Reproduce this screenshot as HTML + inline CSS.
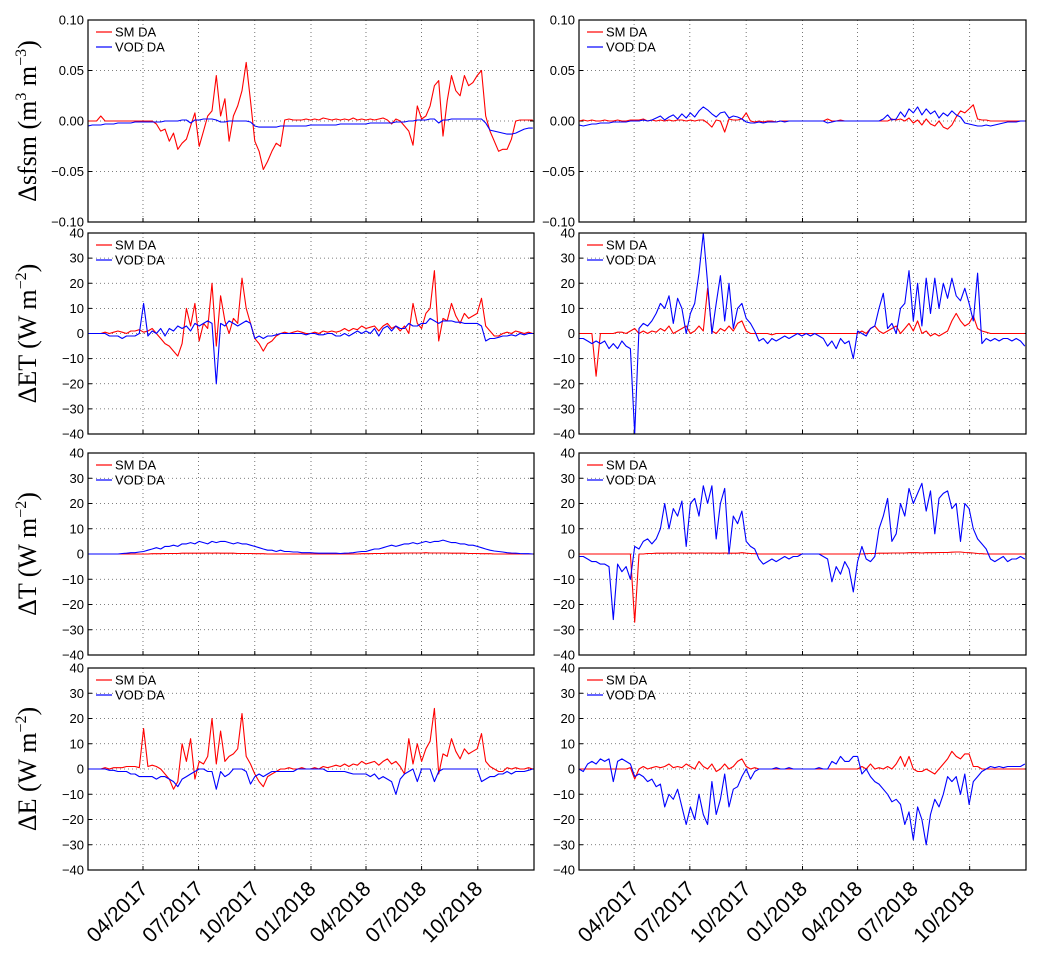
<!DOCTYPE html>
<html><head><meta charset="utf-8"><style>
body{margin:0;background:#fff;}
svg{display:block;font-family:"Liberation Sans",sans-serif;}
</style></head><body>
<svg id="fig" width="1043" height="977" viewBox="0 0 1043 977" xmlns="http://www.w3.org/2000/svg"></svg>
<script>
// weekly samples, day 0 = 01/01/2017, step 7 days
const dayStep = 7;
const xTickLabels = ["04/2017","07/2017","10/2017","01/2018","04/2018","07/2018","10/2018"];
const xTickDays = [90,181,273,365,455,546,638];
const sfsmTicks = [0.10,0.05,0.00,-0.05,-0.10];
const sfsmTickLabels = ["0.10","0.05","0.00","\u22120.05","\u22120.10"];
const fluxTicks = [40,30,20,10,0,-10,-20,-30,-40];
const fluxTickLabels = ["40","30","20","10","0","\u221210","\u221220","\u221230","\u221240"];

const sfsmL_SM = [0,0,0,0.005,0,0,0,0,0,0,0,0,0, 0,0,0,-0.003,-0.01,-0.008,-0.02,-0.012,-0.028,-0.022,-0.018,-0.005,0.008, -0.025,-0.01,0.005,0.01,0.045,0.005,0.022,-0.02,0.005,0.015,0.03,0.058,0.02, -0.02,-0.03,-0.048,-0.04,-0.03,-0.022,-0.025,0.001,0.002,0.001,0.001,0.001,0.002, 0.001,0.002,0.001,0.003,0.002,0.001,0.002,0.001,0.002,0.001,0.003,0.001,0.002, 0.001,0.002,0.001,0.002,0.003,0.001,-0.003,0.002,0,-0.005,-0.01,-0.024,0.015, 0.002,0.005,0.015,0.035,0.04,-0.015,0.02,0.045,0.03,0.025,0.045,0.035,0.038, 0.045,0.05,0.005,-0.01,-0.02,-0.03,-0.028,-0.028,-0.018,0,0.001,0.001,0.001,0.001];
const sfsmL_VOD = [-0.005,-0.004,-0.004,-0.004,-0.003,-0.003,-0.003,-0.002,-0.002,-0.002,-0.002,-0.001,-0.001, -0.001,-0.001,-0.001,-0.001,-0.001,0,0,0,0,0.001,0.001,-0.002,0.001, 0.001,0.002,0.002,0.002,0.001,-0.001,-0.001,0,0,0,0,0,-0.001, -0.005,-0.006,-0.006,-0.006,-0.006,-0.006,-0.005,-0.005,-0.005,-0.005,-0.005,-0.005,-0.005, -0.004,-0.004,-0.004,-0.004,-0.004,-0.004,-0.004,-0.003,-0.003,-0.003,-0.003,-0.003,-0.003, -0.003,-0.002,-0.002,-0.002,-0.002,-0.002,-0.002,-0.001,-0.001,-0.001,0,0,0.001, 0.001,0.001,0.002,0.002,-0.002,0.001,0.001,0.002,0.002,0.002,0.002,0.002,0.002, 0.002,0.002,-0.002,-0.009,-0.01,-0.011,-0.012,-0.013,-0.013,-0.012,-0.01,-0.008,-0.007,-0.007];
const sfsmR_SM = [0,0.001,0,0.001,0,0,0.001,0,0,0.001,0,0,0.001, 0.001,0.001,0.002,0,0.001,0,0.001,0,0.001,0,0.001,0.001,0, 0.001,0,0.001,0.001,-0.002,-0.006,0.001,0,-0.011,0.002,0.001,0.001,0.002, 0.008,0,-0.001,0,-0.001,0,0,-0.001,0,0,0,0,0, 0,0,0,0,0,0,0.002,0,0,0.001,0,0,0, 0,0,0,0,0,0,0,0,0.002,0.001,0.002,0,0.003, -0.002,0.001,-0.004,0.002,-0.003,-0.005,0,-0.006,-0.008,-0.004,0.004,0.01,0.008, 0.012,0.016,0.002,0.001,0.001,0,0,0,0,0,0,0,0,0];
const sfsmR_VOD = [-0.004,-0.005,-0.004,-0.003,-0.003,-0.002,-0.002,-0.002,-0.001,-0.001,-0.001,-0.001,0, 0,0,0.001,0,0.001,0.003,0.005,0.001,0.004,0.006,0.002,0.007,0.003, 0.008,0.004,0.01,0.014,0.011,0.007,0.004,0.008,0.009,0.003,0.005,0.004,0.002, -0.001,-0.002,-0.002,-0.001,-0.002,-0.001,-0.001,-0.001,0,-0.001,0,0,0, 0,0,0,0,0,0,-0.002,-0.001,0,0,0,0,0, 0,0,0,0,0,0,0.002,0.006,0.001,0.002,0.009,0.004,0.012, 0.008,0.014,0.006,0.012,0.007,0.01,0.003,0.008,0.005,0.01,0.006,0.004,-0.002, -0.003,-0.004,-0.005,-0.005,-0.004,-0.005,-0.004,-0.003,-0.002,-0.001,-0.001,-0.001,0,0];

const etL_SM = [0,0,0,0,0.5,0,0.5,1,0.5,0,1,1,1.5, 0.5,1,2,0,-2,-4,-5,-7,-9,-4,10,3,12, -3,4,2,20,-5,15,5,0,6,4,22,10,4, -2,-4,-7,-4,-3,-1,0,0.5,0,0.5,1,0.5,0, 0,0.5,0,1,0.5,1,0.5,1,2,1,2,1.5,3, 2,2.5,3,1,3,4,2,3,1,3,0,12,4, 2,8,10,25,-3,6,5,12,7,4,8,6,7, 8,14,3,1,-1,-1,0,0.5,0,1,0.5,0,0.5,0];
const etL_VOD = [0,0,0,0,0,-1,-1,-1,-2,-1,-1,-1,0, 12,-1,1,0,2,-1,2,1,3,2,3,1,4, 3,4,5,4,-20,4,3,5,4,3,4,5,4, -2,-1,-2,-1,-1,-0.5,0,0,0,0,0,0,-0.5, 0,0,-0.5,-0.5,0,0,-1,-1,0,-1,0,1,0, 1,0,2,-1,2,3,1,3,2,2,4,3,3, 4,4,6,5,4,5,5,5,4.5,4.5,4,4,4, 4,3,-3,-2,-2,-1.5,-1,-1,-0.5,-1,0,-0.5,0,0];
const etR_SM = [0,0,0,0,-17,0,0,0,0,0.5,0.5,0,1, 2,0,1,0,1,0.5,2,1,3,0,1,2,3, 0,1,3,1,18,1,0,2,1,3,1,4,5, 1,0,0,0,0,0,-0.5,0,0,0,0,0,0, 0,0,0,0,0,0,0,0,0,0,0,0,0, 0,1,0,2,3,1,0,1,2,3,0,2,4, 1,5,0,1,-1,0,-1,0,1,5,8,5,3, 4,7,2,1,0.5,0,0,0,0,0,0,0,0,0];
const etR_VOD = [-2,-2,-3,-4,-3,-4,-3,-6,-4,-6,-3,-5,-6, -40,2,4,3,5,8,12,10,15,4,14,10,0, 8,12,24,40,20,0,12,23,5,20,2,10,12, 6,4,1,-3,-2,-4,-2,-3,-2,-1,-2,-1,0, -1,0,-1,0,-1,-2,-5,-3,-6,-2,-4,-3,-10, 1,0,-1,2,3,10,16,2,4,0,10,12,25, 5,20,3,22,8,22,10,20,14,22,15,13,18, 12,5,24,-4,-2,-3,-2,-3,-2,-2,-3,-2,-3,-5];

const tL_SM = [0,0,0,0,0,0,0,0,0,0,0,0,0, 0,0,0.1,0.1,0.1,0.2,0.2,0.2,0.2,0.3,0.3,0.3,0.3, 0.3,0.3,0.4,0.3,0.4,0.3,0.3,0.3,0.3,0.2,0.2,0.2,0.2, 0.1,0.1,0.1,0,0,0,0,0,0,0,0,0,0, 0,0,0,0,0,0,0,0,0,0,0,0,0.1, 0.1,0.1,0.2,0.2,0.2,0.3,0.3,0.3,0.3,0.4,0.4,0.4,0.4, 0.4,0.5,0.4,0.4,0.4,0.4,0.4,0.3,0.3,0.3,0.3,0.2,0.2, 0.2,0.1,0.1,0.1,0,0,0,0,0,0,0,0,0,0];
const tL_VOD = [0,0,0,0,0,0,0,0,0.2,0.3,0.5,0.5,0.8, 1,1.5,2,2.5,2,3,3,3.5,3,4,4,4.5,4, 5,4.5,4,5,4.5,5,5,4.5,4,4.5,4,4,3.5, 3,2.5,2,1.5,1.5,1,1.5,1,1,0.8,0.8,0.5,0.5, 0.5,0.4,0.3,0.3,0.3,0.3,0.3,0.2,0.3,0.4,0.5,0.8,1, 1,1.5,2,2,2.5,3,3.5,3,3.5,4,4,4.5,4, 4.5,5,4.5,5,5,5.5,5,4.5,4.5,4,4,3.5,3.5, 3,2.5,2,1.5,1.2,1,0.8,0.5,0.4,0.3,0.2,0.1,0.1,0];
const tR_SM = [0,0,0,0,0,0,0,0,0,0,0,0,0, -27,0,0,0.2,0.2,0.3,0.3,0.3,0.4,0.3,0.4,0.4,0.3, 0.4,0.3,0.4,0.4,0.3,0.4,0.3,0.3,0.4,0.3,0.3,0.3,0.5, 0.3,0.2,0.1,0,0,0,0,0,0,0,0,0,0, 0,0,0,0,0,0,0,0,0,0,0,0,0, 0,0,0.1,0.2,0.2,0.3,0.3,0.3,0.4,0.4,0.4,0.4,0.5, 0.5,0.5,0.4,0.5,0.5,0.5,0.6,0.6,0.6,0.7,0.8,0.8,0.6, 0.5,0.4,0.2,0.1,0,0,0,0,0,0,0,0,0,0];
const tR_VOD = [-1,-1,-2,-3,-3,-4,-4,-5,-26,-4,-7,-5,-10, 3,2,5,6,4,6,10,20,10,18,15,21,3, 20,22,15,27,20,27,6,20,26,0,15,12,17, 5,3,2,-2,-4,-3,-2,-3,-2,-1,-2,-1,-1, 0,0,0,0,0,-1,-2,-11,-5,-8,-3,-6,-15, -3,3,-2,-3,-1,10,15,22,5,8,20,15,26, 20,24,28,17,25,8,22,24,25,18,20,5,20, 18,10,6,4,2,-2,-3,-2,-1,-3,-2,-2,-1,-2];

const eL_SM = [0,0,0,0,0.5,0,0.5,0.5,0.5,1,1,1,0.5, 16,1,1.5,1,0,-2,-4,-8,-5,10,3,12,-4, 3,2,5,20,2,15,3,5,6,8,22,5,2, -2,-5,-7,-3,-2,-1,0,0,0.5,0,0,0.5,0, 0,0.5,0,1,0.5,1,1.5,1,2,1,2,1.5,3, 2,2.5,3,1.5,3,4,2,3,1,-2,12,2,10, 3,8,11,24,-2,6,5,12,7,4,8,6,7, 8,14,3,1,0,-1,-1,0.5,0,0.5,0,0,0.5,0];
const eL_VOD = [0,0,0,0,0,-0.5,-0.5,-1,-1,-1,-2,-2,-3, -3,-3,-3,-4,-3,-3,-4,-5,-7,-4,-3,-2,-1, 0,0,-1,-1,-8,-1,-3,-2,0,0,0,-1,-6, -3,-2,-3,-2,-1,-1,-1,-1,-1,-1,0,0,0, 0,0,0,0,-1,-1,-1,-1,-1,-1.5,-2,-2,-2, -2,-3,-2,-4,-3,-4,-5,-10,-4,-2,-1,0,-5, 0,0,0,-5,-1,0,0,0,0,0,0,0,0, 0,-5,-4,-3,-3,-2,-2,-1,-2,-1,-1,-1,-0.5,0];
const eR_SM = [0,0,0,0,0,0,0,0,0,0,0,0,0.5, -4,0,1,0,0.5,1,0.5,1,2,0.5,1,0.5,2, 1,0,3,1,0,2,-1,0,2,0,1,3,4, 1,0,0.5,0,0,0,0,0,0,0,0,0,0, 0,0,0,0,0,0,0,0,0,0,0,0,0, 0,1,0,2,0,0.5,0,1,0,2,5,1,5, 0,-1,-1,0,-1,-2,0,2,4,7,5,4,6, 6,1,1,0,0,0,0,0,0,0,0,0,0,0];
const eR_VOD = [0,-1,2,3,2,4,3,4,-5,3,4,3,2, -3,-2,-3,-5,-4,-7,-6,-15,-10,-12,-8,-15,-22, -15,-20,-10,-18,-22,-5,-18,-12,-2,-15,-8,-7,-3, 0,-4,-1,0,0,0,0,0.5,0,0,0.5,0,0, 0,0,0,0,0.5,0,0,3,2,5,3,3,5, 5,-2,0,-3,-5,-6,-8,-10,-13,-12,-14,-22,-17, -28,-15,-20,-30,-18,-12,-15,-10,-3,-5,-3,-10,-2, -14,-5,-3,-1,0,1,0.5,1,0.5,1,1,1,1,2];

const svg = document.getElementById('fig');
const NS = 'http://www.w3.org/2000/svg';
function mk(tag, attrs, parent){const e=document.createElementNS(NS,tag);for(const k in attrs)e.setAttribute(k,attrs[k]);(parent||svg).appendChild(e);return e;}

const cols = [{x0:88,x1:534,side:'left'},{x0:579,x1:1026,side:'right'}];
const rows = [{y0:20,y1:222,ymax:0.10,ticks:sfsmTicks,labels:sfsmTickLabels,key:'sfsm'},
              {y0:233,y1:434,ymax:40,ticks:fluxTicks,labels:fluxTickLabels,key:'et'},
              {y0:453,y1:655,ymax:40,ticks:fluxTicks,labels:fluxTickLabels,key:'t'},
              {y0:668,y1:870,ymax:40,ticks:fluxTicks,labels:fluxTickLabels,key:'e'}];
const seriesMap = {
  sfsm:[[sfsmL_SM,sfsmL_VOD],[sfsmR_SM,sfsmR_VOD]],
  et:[[etL_SM,etL_VOD],[etR_SM,etR_VOD]],
  t:[[tL_SM,tL_VOD],[tR_SM,tR_VOD]],
  e:[[eL_SM,eL_VOD],[eR_SM,eR_VOD]]};
const yTitles = [["\u0394sfsm (m","3"," m","\u22123",")"],["\u0394ET (W m","\u22122",")"],["\u0394T (W m","\u22122",")"],["\u0394E (W m","\u22122",")"]];
const totalDays = 730;

rows.forEach((r,ri)=>{
  cols.forEach((c,ci)=>{
    const g = mk('g',{});
    
    
    const xs = d => c.x0 + (c.x1-c.x0)*d/totalDays;
    const ys = v => r.y0 + (r.y1-r.y0)*(r.ymax - v)/(2*r.ymax);
    xTickDays.forEach(d=>{
      const l = mk('line',{x1:xs(d),x2:xs(d),y1:r.y0,y2:r.y1,stroke:'#555','stroke-width':0.8,'stroke-dasharray':'1,3'},g);
      
      
      mk('line',{x1:xs(d),x2:xs(d),y1:r.y1,y2:r.y1-4,stroke:'#000','stroke-width':1},g);
    });
    r.ticks.forEach((t,ti)=>{
      const y = ys(t);
      if(ti>0 && ti<r.ticks.length-1){
        const l = mk('line',{x1:c.x0,x2:c.x1,y1:y,y2:y,stroke:'#555','stroke-width':0.8,'stroke-dasharray':'1,3'},g);
        
        
      }
      mk('line',{x1:c.x0,x2:c.x0+4,y1:y,y2:y,stroke:'#000'},g);
      mk('line',{x1:c.x1,x2:c.x1-4,y1:y,y2:y,stroke:'#000'},g);
      const tx = mk('text',{x:c.x0-4,y:y+4.5,'text-anchor':'end','font-size':13,fill:'#000'},g);
      
      
      tx.textContent = r.labels[ti];
    });
    const colors = ['#ff0000','#0000ff'];
    const names = ['sm-da-line','vod-da-line'];
    seriesMap[r.key][ci].forEach((arr,si)=>{
      const pts = arr.map((v,i)=>xs(Math.min(i*dayStep,totalDays)).toFixed(1)+','+ys(Math.max(-r.ymax,Math.min(r.ymax,v))).toFixed(1)).join(' ');
      const pl = mk('polyline',{points:pts,fill:'none',stroke:colors[si],'stroke-width':1.1,'stroke-linejoin':'round'},g);
      
      
    });
    const fr = mk('rect',{x:c.x0,y:r.y0,width:c.x1-c.x0,height:r.y1-r.y0,fill:'none',stroke:'#000','stroke-width':1.2},g);
    
    
    const lg = mk('g',{},g);
    
    
    ['SM DA','VOD DA'].forEach((lab,li)=>{
      const yy = r.y0+12+li*15;
      mk('line',{x1:c.x0+8,x2:c.x0+24,y1:yy,y2:yy,stroke:colors[li],'stroke-width':1.2},lg);
      const t = mk('text',{x:c.x0+27,y:yy+4.5,'font-size':13,fill:'#000'},lg);
      
      
      t.textContent = lab;
    });
    if(ri===3){
      xTickDays.forEach((d,i)=>{
        const x = xs(d)+6, y = r.y1+20;
        const t = mk('text',{x:x,y:y,'text-anchor':'end','font-size':21,fill:'#000',transform:'rotate(-45 '+x+' '+y+')'},svg);
        
        
        t.textContent = xTickLabels[i];
      });
    }
  });
  const cy = (r.y0+r.y1)/2;
  const tt = mk('text',{x:0,y:0,'font-family':'"Liberation Serif",serif','font-size':26,'text-anchor':'middle',fill:'#000',transform:'translate(36 '+cy+') rotate(-90)'});
  
  
  yTitles[ri].forEach((p,pi)=>{
    const ts = document.createElementNS(NS,'tspan');
    if(pi%2===1){ts.setAttribute('font-size','16');ts.setAttribute('dy','-10');}
    else if(pi>0){ts.setAttribute('dy','10');}
    ts.textContent = p;
    tt.appendChild(ts);
  });
});
</script>
</body></html>
